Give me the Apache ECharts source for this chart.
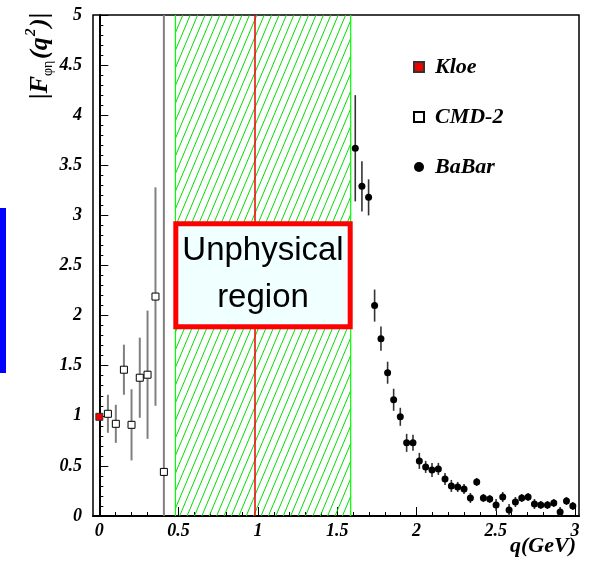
<!DOCTYPE html>
<html>
<head>
<meta charset="utf-8">
<script src="https://cdn.jsdelivr.net/npm/echarts@6/dist/echarts.min.js"></script>
<style>
  html, body { margin: 0; padding: 0; background: #fff; }
  #main { width: 592px; height: 561px; }
</style>
</head>
<body>
<div id="main"></div>
<script>
// values: q in GeV, |F| dimensionless
const kloeQ = [0.0]
const kloeF = [0.99]
const kloeErr = [0.02]

const cmdQ = [0.054, 0.104, 0.155, 0.203, 0.255, 0.304, 0.354, 0.407]
const cmdF = [1.02, 0.92, 1.46, 0.91, 1.38, 1.41, 2.19, 0.44]
const cmdErr = [0.19, 0.19, 0.25, 0.355, 0.40, 0.64, 1.09, 5.0]

const babarQ = [1.614, 1.656, 1.698, 1.736, 1.776, 1.818, 1.856, 1.898, 1.938, 1.978,
  2.018, 2.058, 2.098, 2.138, 2.180, 2.220, 2.260, 2.300, 2.340, 2.380,
  2.422, 2.462, 2.502, 2.544, 2.584, 2.624, 2.664, 2.704, 2.744, 2.784,
  2.826, 2.866, 2.906, 2.946, 2.986]
const babarF = [3.67, 3.29, 3.18, 2.10, 1.77, 1.43, 1.16, 0.99, 0.73, 0.73,
  0.55, 0.49, 0.46, 0.47, 0.37, 0.30, 0.29, 0.27, 0.18, 0.34,
  0.18, 0.17, 0.11, 0.19, 0.06, 0.14, 0.18, 0.19, 0.12, 0.11,
  0.11, 0.13, 0.04, 0.15, 0.10]
const babarErr = [0.53, 0.25, 0.18, 0.16, 0.12, 0.11, 0.11, 0.09, 0.09, 0.08,
  0.08, 0.06, 0.07, 0.06, 0.06, 0.06, 0.05, 0.05, 0.05, 0.04,
  0.04, 0.04, 0.06, 0.05, 0.06, 0.05, 0.04, 0.04, 0.05, 0.04,
  0.04, 0.04, 0.05, 0.04, 0.04]

// unphysical band and the line inside it
const unphysRange = [0.48, 1.585]
const redLineQ = 0.985

const xMin = -0.04
const xMax = 3.025
const yMin = 0
const yMax = 5
const xMajorTicks = [0, 0.5, 1, 1.5, 2, 2.5, 3]
const xTickLabels = ['0', '0.5', '1', '1.5', '2', '2.5', '3']
const xMinorTicks = [0.1, 0.2, 0.3, 0.4, 0.6, 0.7, 0.8, 0.9, 1.1, 1.2, 1.3, 1.4,
  1.6, 1.7, 1.8, 1.9, 2.1, 2.2, 2.3, 2.4, 2.6, 2.7, 2.8, 2.9]
const yTickLabels = ['0', '0.5', '1', '1.5', '2', '2.5', '3', '3.5', '4', '4.5', '5']

const serif = '"Liberation Serif", "DejaVu Serif", serif'
const tickFont = { fontFamily: serif, fontStyle: 'italic', fontWeight: 'bold', fontSize: 18, color: '#000' }

const zip = (a, b) => a.map((v, i) => [v, b[i]])
const errRows = (q, f, e) => q.map((v, i) => [v, f[i] - e[i], f[i] + e[i]])

function errorBars (color, width) {
  return function (params, api) {
    const lo = Math.max(api.value(1), yMin)
    const hi = Math.min(api.value(2), yMax)
    const p1 = api.coord([api.value(0), lo])
    const p2 = api.coord([api.value(0), hi])
    return {
      type: 'line',
      shape: { x1: p1[0], y1: p1[1], x2: p2[0], y2: p2[1] },
      style: { stroke: color, lineWidth: width }
    }
  }
}

function hatchBand (params, api) {
  const a = api.coord([api.value(0), yMax])
  const b = api.coord([api.value(1), yMin])
  const x0 = a[0], y0 = a[1], x1 = b[0], y1 = b[1]
  const k = 0.42    // horizontal run per pixel of rise
  const step = 7.4
  const children = []
  const h = y1 - y0
  for (let c = x0 - h * k; c < x1; c += step) {
    // x = c + (y1 - y) * k
    const ya = y1 - (x0 - c) / k
    const yb = y1 - (x1 - c) / k
    const top = Math.max(y0, yb)
    const bot = Math.min(y1, ya)
    if (bot <= top) continue
    children.push({
      type: 'line',
      shape: { x1: c + (y1 - bot) * k, y1: bot, x2: c + (y1 - top) * k, y2: top },
      style: { stroke: '#00e000', lineWidth: 1 }
    })
  }
  children.push({ type: 'line', shape: { x1: x0, y1: y0, x2: x0, y2: y1 }, style: { stroke: '#00ff00', lineWidth: 1.2 } })
  children.push({ type: 'line', shape: { x1: x1, y1: y0, x2: x1, y2: y1 }, style: { stroke: '#00ff00', lineWidth: 1.2 } })
  return { type: 'group', children: children }
}

const chart = echarts.init(document.getElementById('main'), null, { renderer: 'canvas' })

const option = {
  backgroundColor: '#fff',
  animation: false,
  grid: {
    left: 93, right: 13, top: 15, bottom: 45,
    show: true, borderColor: '#000', borderWidth: 1.5,
    outerBoundsMode: 'none'
  },
  legend: {
    orient: 'vertical',
    left: 408, top: 51,
    itemWidth: 10, itemHeight: 10,
    itemGap: 28,
    data: ['Kloe', 'CMD-2', 'BaBar'],
    textStyle: { fontFamily: serif, fontStyle: 'italic', fontWeight: 'bold', fontSize: 22, color: '#000', padding: [0, 0, 0, 6] }
  },
  xAxis: [
    {
      type: 'value', min: xMin, max: xMax, position: 'bottom',
      axisLine: { onZero: false, lineStyle: { color: '#000', width: 2 } },
      axisTick: { inside: true, length: 9, customValues: xMajorTicks, lineStyle: { color: '#000', width: 1 } },
      axisLabel: {
        customValues: xMajorTicks, margin: 6, ...tickFont,
        formatter: v => xTickLabels[xMajorTicks.indexOf(v)] || String(v)
      },
      splitLine: { show: false }
    },
    {
      type: 'value', min: xMin, max: xMax, position: 'bottom',
      axisLine: { show: false },
      axisTick: { inside: true, length: 4, customValues: xMinorTicks, lineStyle: { color: '#000', width: 1 } },
      axisLabel: { show: false },
      splitLine: { show: false }
    }
  ],
  yAxis: {
    type: 'value', min: yMin, max: yMax, interval: 0.5,
    axisLine: { show: true, lineStyle: { color: '#000', width: 2 } },
    axisTick: { show: true, inside: true, length: 9, lineStyle: { color: '#000' } },
    minorTick: { show: true, splitNumber: 5, length: 4, lineStyle: { color: '#000' } },
    axisLabel: { margin: 11, ...tickFont, formatter: (v, i) => yTickLabels[i] },
    splitLine: { show: false }
  },
  series: [
    {
      type: 'custom', name: 'band', z: 1, silent: true,
      renderItem: hatchBand,
      data: [unphysRange],
      encode: { x: [0, 1] },
      markLine: {
        silent: true, symbol: ['none', 'none'], label: { show: false },
        lineStyle: { color: '#ee0000', width: 1.5, type: 'solid' },
        data: [{ xAxis: redLineQ }]
      }
    },
    {
      type: 'custom', name: 'cmdErr', z: 2, silent: true,
      renderItem: errorBars('#808080', 2),
      data: errRows(cmdQ, cmdF, cmdErr),
      encode: { x: 0, y: [1, 2] }
    },
    {
      type: 'custom', name: 'babarErr', z: 2, silent: true,
      renderItem: errorBars('#333', 1.6),
      data: errRows(babarQ, babarF, babarErr),
      encode: { x: 0, y: [1, 2] }
    },
    {
      type: 'custom', name: 'kloeErr', z: 2, silent: true,
      renderItem: errorBars('#333', 1),
      data: errRows(kloeQ, kloeF, kloeErr),
      encode: { x: 0, y: [1, 2] }
    },
    {
      type: 'scatter', name: 'Kloe', z: 5,
      symbol: 'rect', symbolSize: 7,
      itemStyle: { color: '#ee0000', borderColor: '#333', borderWidth: 1, opacity: 1 },
      data: zip(kloeQ, kloeF)
    },
    {
      type: 'scatter', name: 'CMD-2', z: 5,
      symbol: 'rect', symbolSize: 7,
      itemStyle: { color: '#fff', borderColor: '#000', borderWidth: 1, opacity: 1 },
      data: zip(cmdQ, cmdF)
    },
    {
      type: 'scatter', name: 'BaBar', z: 5,
      symbol: 'circle', symbolSize: 7,
      itemStyle: { color: '#000', opacity: 1 },
      data: zip(babarQ, babarF)
    }
  ],
  graphic: [
    // blue strip on the left edge
    { type: 'rect', left: 0, top: 208, shape: { width: 6, height: 165 }, style: { fill: '#0000ff' } },
    // y axis title, reads bottom to top
    {
      type: 'group', x: 40, y: 99, rotation: Math.PI / 2, z: 10,
      children: [
        { type: 'text', x: 0, y: 0, style: { text: '|F', font: 'italic bold 26px ' + serif, verticalAlign: 'middle', fill: '#000' } },
        { type: 'text', x: 23, y: 8, style: { text: 'φη', font: '14px ' + serif, verticalAlign: 'middle', fill: '#000' } },
        { type: 'text', x: 40, y: 0, style: { text: '(q', font: 'italic bold 26px ' + serif, verticalAlign: 'middle', fill: '#000' } },
        { type: 'text', x: 63, y: -9, style: { text: '2', font: 'italic bold 15px ' + serif, verticalAlign: 'middle', fill: '#000' } },
        { type: 'text', x: 72, y: 0, style: { text: ')|', font: 'italic bold 26px ' + serif, verticalAlign: 'middle', fill: '#000' } }
      ]
    },
    // x axis title
    {
      type: 'text', right: 16, top: 535,
      style: { text: 'q(GeV)', font: 'italic bold 22px ' + serif, fill: '#000' }
    },
    // unphysical region box
    {
      type: 'rect', x: 175.8, y: 223.8, z: 20,
      shape: { width: 174.4, height: 103 },
      style: { fill: '#f0ffff', stroke: '#ff0000', lineWidth: 5 }
    },
    {
      type: 'text', x: 263, y: 251, z: 21,
      style: { text: 'Unphysical', font: '33px "Liberation Sans", Arial, sans-serif', align: 'center', verticalAlign: 'middle', fill: '#000' }
    },
    {
      type: 'text', x: 263, y: 298, z: 21,
      style: { text: 'region', font: '33px "Liberation Sans", Arial, sans-serif', align: 'center', verticalAlign: 'middle', fill: '#000' }
    }
  ]
}

chart.setOption(option)
</script>
</body>
</html>
